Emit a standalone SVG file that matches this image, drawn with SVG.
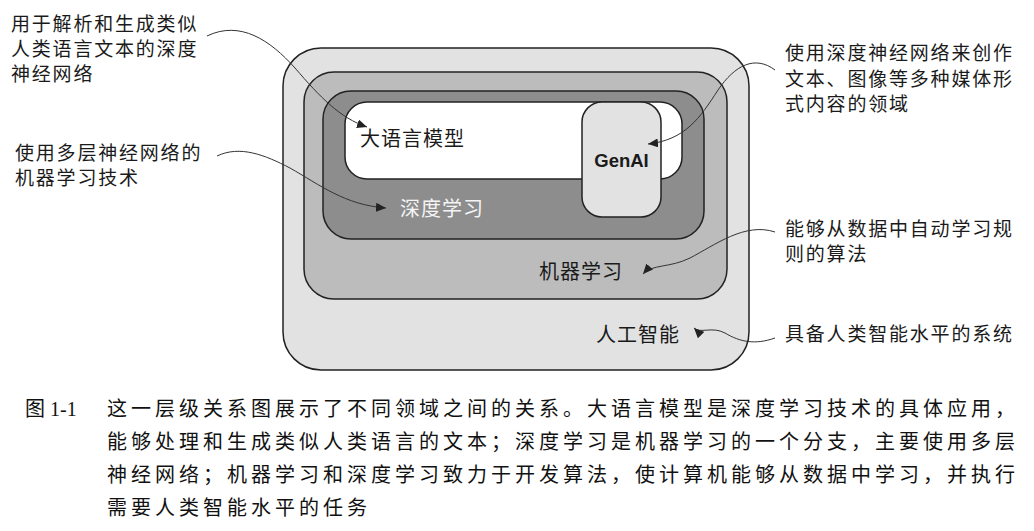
<svg xmlns="http://www.w3.org/2000/svg" width="1034" height="531" viewBox="0 0 1034 531">
  <style>
    .box { stroke: #222; stroke-width: 1.5; }
    .ai { fill: #e2e2e2; }
    .ml { fill: #bcbcbc; }
    .dl { fill: #8d8d8d; }
    .llm { fill: #ffffff; }
    .gen { fill: #e2e2e2; }
    .lbl { font-family: "Noto Sans CJK SC", "Liberation Sans", sans-serif; font-size: 20px; letter-spacing: 1px; fill: #1a1a1a; }
    .note { font-family: "Noto Sans CJK SC", "Liberation Sans", sans-serif; font-size: 19px; letter-spacing: 1.8px; fill: #1a1a1a; }
    .gtxt { font-family: "Liberation Sans", Arial, sans-serif; font-weight: bold; font-size: 18.5px; fill: #1a1a1a; }
    .cap { font-family: "Liberation Serif", "Noto Sans CJK SC", serif; font-size: 20px; letter-spacing: 4px; fill: #111; }
    .conn { fill: none; stroke: #333; stroke-width: 1; }
  </style>
  <defs>
    <marker id="arr" markerUnits="userSpaceOnUse" markerWidth="11" markerHeight="9" refX="10" refY="4.5" orient="auto">
      <path d="M0,0 L10,4.5 L0,9 z" fill="#222"/>
    </marker>
  </defs>
  <rect width="1034" height="531" fill="#ffffff"/>

  <g id="node-ai">
    <rect class="box ai" x="283" y="48" width="466" height="322" rx="38"/>
    <text class="lbl" x="596" y="342">人工智能</text>
  </g>
  <g id="node-ml">
    <rect class="box ml" x="304" y="72" width="423" height="227" rx="30"/>
    <text class="lbl" x="539" y="279">机器学习</text>
  </g>
  <g id="node-dl">
    <rect class="box dl" x="323" y="91" width="381" height="148" rx="28"/>
    <text class="lbl" x="400" y="216" style="fill:#f4f4f4">深度学习</text>
  </g>
  <g id="node-llm">
    <rect class="box llm" x="345" y="102" width="337" height="77" rx="22"/>
    <text class="lbl" x="360" y="146">大语言模型</text>
  </g>
  <g id="node-genai">
    <rect class="box gen" x="582" y="102" width="79" height="115" rx="20"/>
    <text class="gtxt" x="621.5" y="167" text-anchor="middle">GenAI</text>
  </g>

  <g id="note-llm">
    <text class="note" x="11" y="31">用于解析和生成类似</text>
    <text class="note" x="11" y="56">人类语言文本的深度</text>
    <text class="note" x="11" y="81">神经网络</text>
  </g>
  <g id="note-dl">
    <text class="note" x="15" y="160">使用多层神经网络的</text>
    <text class="note" x="15" y="185">机器学习技术</text>
  </g>
  <g id="note-genai">
    <text class="note" x="785" y="60">使用深度神经网络来创作</text>
    <text class="note" x="785" y="86">文本、图像等多种媒体形</text>
    <text class="note" x="785" y="111">式内容的领域</text>
  </g>
  <g id="note-ml">
    <text class="note" x="785" y="236">能够从数据中自动学习规</text>
    <text class="note" x="785" y="261">则的算法</text>
  </g>
  <g id="note-ai">
    <text class="note" x="785" y="341">具备人类智能水平的系统</text>
  </g>

  <g id="connectors">
    <path class="conn" marker-end="url(#arr)" d="M207,36 C240,20 270,40 295,68 C320,97 340,118 367,127"/>
    <path class="conn" marker-end="url(#arr)" d="M217,156 C240,145 265,155 290,168 C320,185 345,205 386,208"/>
    <path class="conn" marker-end="url(#arr)" d="M775,70 C755,55 735,65 718,90 C700,118 685,140 648,144"/>
    <path class="conn" marker-end="url(#arr)" d="M775,232 C745,222 715,245 690,258 C670,268 652,264 643,274"/>
    <path class="conn" marker-end="url(#arr)" d="M775,338 C755,345 740,342 725,333 C712,326 700,334 694,328"/>
  </g>

  <g id="caption">
    <text class="cap" x="25" y="416" style="letter-spacing:0">图 1-1</text>
    <text class="cap" x="107" y="416">这一层级关系图展示了不同领域之间的关系。大语言模型是深度学习技术的具体应用，</text>
    <text class="cap" x="107" y="449">能够处理和生成类似人类语言的文本；深度学习是机器学习的一个分支，主要使用多层</text>
    <text class="cap" x="107" y="482">神经网络；机器学习和深度学习致力于开发算法，使计算机能够从数据中学习，并执行</text>
    <text class="cap" x="107" y="515">需要人类智能水平的任务</text>
  </g>
</svg>
